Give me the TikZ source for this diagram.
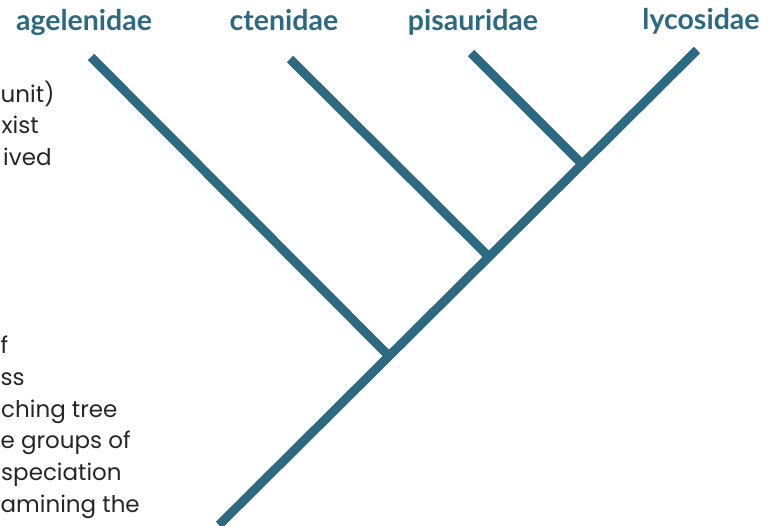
\documentclass[tikz,border=0pt]{standalone}
\usepackage{fontspec}
\setmainfont{Poppins}
\newfontfamily\labelfont{Lato}
\definecolor{branch}{RGB}{45,105,129}
\begin{document}
\begin{tikzpicture}[x=1pt,y=-1pt,
  br/.style={line width=9pt,draw=branch,line cap=butt},
  taxon/.style={font=\labelfont\bfseries\fontsize{28.5}{32}\selectfont,text=branch,inner sep=0pt,anchor=base},
  body/.style={font=\fontsize{23}{27}\selectfont,text=black!85,inner sep=0pt,anchor=base west}]
\useasboundingbox (0,0) rectangle (779,525);
% text fragments on the left
\node[body] (t1) at (0.5,102) {unit)};
\node[body] (t2) at (1.5,133) {xist};
\node[body] (t3) at (3,165) {ived};
\node[body] (t4) at (0.5,353) {f};
\node[body] (t5) at (0.5,385) {ss};
\node[body] (t6) at (1,417) {ching tree};
\node[body] (t7) at (0.5,448) {e groups of};
\node[body] (t8) at (1,480) {speciation};
\node[body] (t9) at (0.5,512) {amining the};
% taxa labels
\node[taxon] (ag) at (84,30) {agelenidae};
\node[taxon] (ct) at (284,30) {ctenidae};
\node[taxon] (pi) at (473,30) {pisauridae};
\node[taxon] (ly) at (701,29) {lycosidae};
% tree
\coordinate (root) at (219,525);
\coordinate (lyt) at (697,50);
\coordinate (agt) at (91,57);
\coordinate (ctt) at (290,59);
\coordinate (pit) at (471,53);
\coordinate (j1) at (389,356);
\coordinate (j2) at (488,256);
\coordinate (j3) at (581,163);
\begin{scope}
\clip (0,0) rectangle (779,525);
\draw[br] (root) -- (lyt);
\end{scope}
\draw[br] (agt) -- (j1);
\draw[br] (ctt) -- (j2);
\draw[br] (pit) -- (j3);
\end{tikzpicture}
\end{document}
